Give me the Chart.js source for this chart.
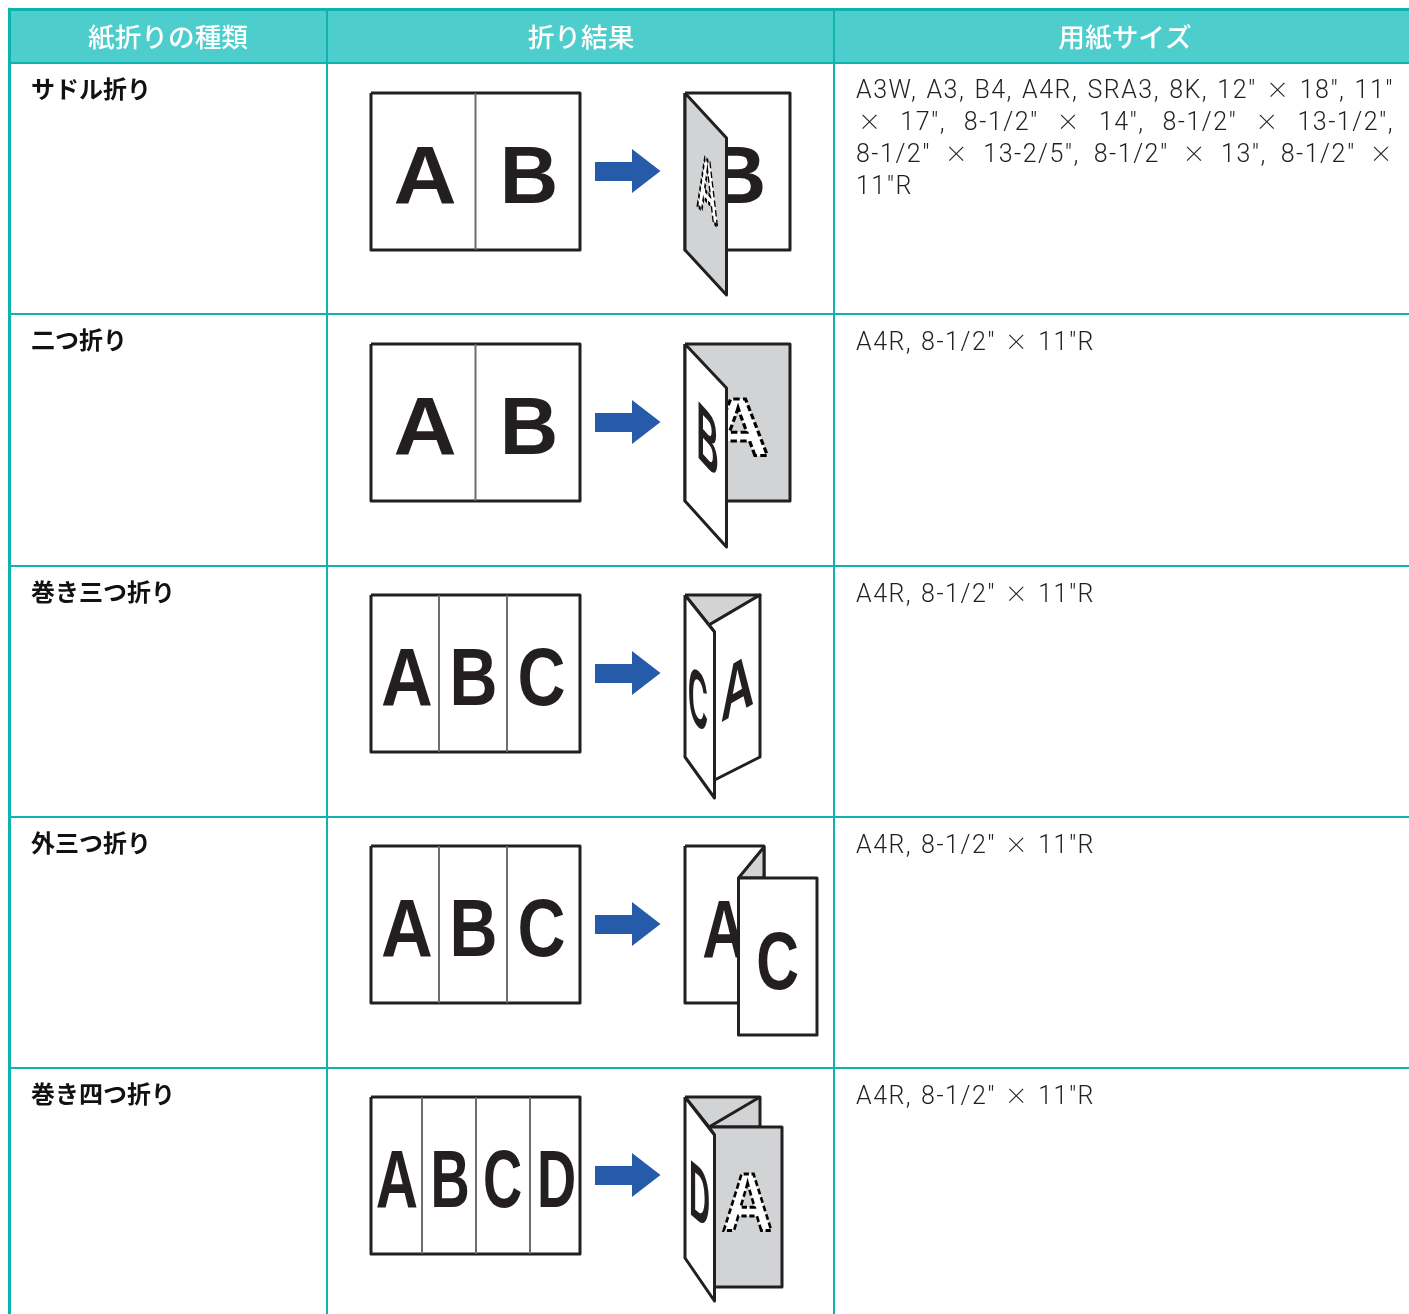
<!DOCTYPE html>
<html>
<head>
  <title>紙折りの種類</title>
  <script src="https://cdn.jsdelivr.net/npm/chart.js"></script>
  <style>
    html, body { margin: 0; background: #fff; }
    canvas { display: block; }
  </style>
</head>
<body>
  <canvas id="tabla" width="1409" height="1314"></canvas>

  <script>
    // text of the table
    var headers = ['紙折りの種類', '折り結果', '用紙サイズ'];
    var foldNames = ['サドル折り', '二つ折り', '巻き三つ折り', '外三つ折り', '巻き四つ折り'];
    var saddleSizes = [
      'A3W, A3, B4, A4R, SRA3, 8K, 12" × 18", 11"',
      '× 17", 8-1/2" × 14", 8-1/2" × 13-1/2",',
      '8-1/2" × 13-2/5", 8-1/2" × 13", 8-1/2" ×',
      '11"R'
    ];
    var otherSizes = 'A4R, 8-1/2" × 11"R';

    // table grid
    var columnRules = [9.5, 327, 834];
    var rowRules = [9.5, 63, 314, 566, 817, 1068];
    var headerCentres = [168, 581, 1125];
    var sheetTops = [93, 344, 595, 846, 1097];

    // flat sheet, left of each arrow
    var sheetFolds = [[475.5], [475.5], [439, 507], [439, 507], [422, 476, 530]];
    var sheetLetters = [
      [['A', 425], ['B', 529]],
      [['A', 425], ['B', 529]],
      [['A', 407], ['B', 473.5], ['C', 541.5]],
      [['A', 407], ['B', 473.5], ['C', 541.5]],
      [['A', 397], ['B', 450], ['C', 502.5], ['D', 556.5]]
    ];
    var letterWidths = [1, 1, 0.82, 0.82, 0.67];

    // folded sheets, right of each arrow
    var saddleBack = [[685, 93], [790, 93], [790, 250], [685, 250], [685, 93]];
    var saddlePanel = [[685, 93], [726.5, 138], [726.5, 295], [685, 250], [685, 93]];
    var halfBack = [[685, 344], [790, 344], [790, 501], [685, 501], [685, 344]];
    var halfPanel = [[685, 344], [726.5, 388], [726.5, 547], [685, 501], [685, 344]];
    var triGusset = [[685, 595], [760, 595], [709, 625], [685, 595]];
    var triRight = [[709, 625], [760, 595], [760, 757], [714.5, 780], [714.5, 632], [709, 625]];
    var triLeft = [[685, 595], [714.5, 632], [714.5, 798], [685, 757], [685, 595]];
    var outerBack = [[685, 846], [764, 846], [764, 1003], [685, 1003], [685, 846]];
    var outerCorner = [[764, 847], [764, 878], [738.5, 878], [764, 847]];
    var outerFront = [[738.5, 878], [817, 878], [817, 1035], [738.5, 1035], [738.5, 878]];
    var quadGusset = [[685, 1097], [760, 1097], [760, 1127], [709, 1127], [685, 1097]];
    var quadRight = [[709, 1127], [782, 1127], [782, 1287], [714.5, 1287], [714.5, 1135], [709, 1127]];
    var quadLeft = [[685, 1097], [714.5, 1135], [714.5, 1301], [685, 1258], [685, 1097]];
    var quadCrease = [[709, 1127], [760, 1097]];

    var INK = '#231f20', GREY = '#d1d3d4', RULE = '#0db4af', BAND = '#4dcdcb', BLUE = '#255ba8', FOLD = '#6d6e70';
    var SIZE_FONT = '300 25px Roboto';
    var TIMES_FONT = '300 23px "Noto Sans CJK JP"';
    var paint = [];

    function shape(points, fill, color, width) {
      paint.push({
        type: 'scatter',
        showLine: true,
        data: points.map(function(p) { return { x: p[0], y: p[1] }; }),
        borderColor: color,
        borderWidth: width,
        borderJoinStyle: 'round',
        backgroundColor: fill || 'transparent',
        fill: fill ? 'shape' : false,
        pointRadius: 0,
        tension: 0,
        clip: false
      });
    }

    // text is a single invisible point, the plugin below writes at its pixel
    function label(text, x, y, style) {
      paint.push({
        type: 'scatter',
        data: [{ x: x, y: y }],
        pointRadius: 0,
        clip: false,
        mark: Object.assign({ text: text }, style)
      });
    }

    function letter(text, x, y, m, dashed, lw) {
      // the A of the reference is a bit wider than the Liberation one
      var k = text == 'A' ? 1.08 : 1;
      label(text, x, y, {
        font: 'bold 81px "Liberation Sans"', align: 'center', color: INK,
        m: [m[0] * k, m[1] * k, m[2], m[3]], dashed: dashed, lw: lw
      });
    }

    // header band and rules
    shape([[8, 9.5], [1409, 9.5], [1409, 63], [8, 63], [8, 9.5]], BAND, BAND, 0);
    headers.forEach(function(h, i) {
      label(h, headerCentres[i], 47, { font: '500 26.7px "Noto Sans CJK JP"', align: 'center', color: '#ffffff' });
    });
    rowRules.forEach(function(y, i) {
      shape([[8, y], [1409, y]], null, RULE, i == 0 ? 3 : 2);
    });
    columnRules.forEach(function(x, i) {
      shape([[x, 9], [x, 1314]], null, RULE, i == 0 ? 3 : 2);
    });

    // first and third column
    foldNames.forEach(function(name, i) {
      var y = rowRules[i + 1];
      label(name, 31, y + 34.5, { font: '700 24px "Noto Sans CJK JP"', align: 'left', color: '#111111' });
      if (i > 0) {
        label(otherSizes, 856, y + 35.5, { size: true, color: INK, fit: 1095 });
      }
    });
    saddleSizes.forEach(function(line, i) {
      label(line, i == 1 ? 858 : 856, [98, 130, 162, 194][i], {
        size: true, color: INK, fit: i < 3 ? 1394 : 0
      });
    });

    // flat sheets and arrows
    sheetTops.forEach(function(top, i) {
      shape([[371, top], [580, top], [580, top + 157], [371, top + 157], [371, top]], '#ffffff', INK, 3);
      sheetFolds[i].forEach(function(x) {
        shape([[x, top + 1], [x, top + 156]], null, FOLD, 2);
      });
      sheetLetters[i].forEach(function(l) {
        letter(l[0], l[1], top + 110, [letterWidths[i], 0, 0, 1]);
      });
      shape([[595, top + 69], [632, top + 69], [632, top + 56], [660.5, top + 78], [632, top + 100], [632, top + 88], [595, top + 88], [595, top + 69]], BLUE, BLUE, 0);
    });

    // saddle fold
    shape(saddleBack, '#ffffff', INK, 3);
    letter('B', 737, 203, [1, 0, 0, 1]);
    shape(saddlePanel, GREY, INK, 3);
    letter('A', 707.5, 216, [0.34, 0.36, 0, 1], true, 4);

    // half fold
    shape(halfBack, GREY, INK, 3);
    letter('A', 738, 455, [1, 0, 0, 1], true, 3);
    shape(halfPanel, '#ffffff', INK, 3);
    letter('B', 707.5, 468, [0.38, 0.42, 0, 1.02]);

    // tri fold
    shape(triGusset, GREY, INK, 3);
    shape(triRight, '#ffffff', INK, 3);
    letter('A', 737.5, 713, [0.535, -0.31, 0, 0.93]);
    shape(triLeft, '#ffffff', INK, 3);
    letter('C', 698, 726, [0.34, 0.3, 0, 0.98]);

    // z fold
    shape(outerBack, '#ffffff', INK, 3);
    letter('A', 724, 957, [0.69, 0, 0, 1]);
    shape(outerCorner, GREY, INK, 3);
    shape(outerFront, '#ffffff', INK, 3);
    letter('C', 777.5, 989, [0.73, 0, 0, 1]);

    // accordion fold
    shape(quadGusset, GREY, INK, 3);
    shape(quadCrease, null, INK, 3);
    shape(quadRight, GREY, INK, 3);
    letter('A', 747.5, 1230, [0.81, 0, 0, 1], true, 3);
    shape(quadLeft, '#ffffff', INK, 3);
    letter('D', 699.5, 1222, [0.36, 0.3, 0, 0.98]);

    // Roboto has a tiny ×, and a font change loses wordSpacing, so the size lines go word by word
    function drawSizeLine(ctx, mark, p) {
      var words = mark.text.split(' ');
      var total = 0;
      ctx.letterSpacing = '1.5px';
      words.forEach(function(w) {
        ctx.font = w == '×' ? TIMES_FONT : SIZE_FONT;
        total += ctx.measureText(w).width;
      });
      var gap = words.length > 1 ? (mark.fit - p.x - total) / (words.length - 1) : 0;
      var x = p.x;
      words.forEach(function(w) {
        ctx.font = w == '×' ? TIMES_FONT : SIZE_FONT;
        ctx.fillText(w, x, p.y);
        x += ctx.measureText(w).width + gap;
      });
    }

    var marks = {
      id: 'marks',
      afterDatasetDraw: function(chart, args) {
        var mark = chart.data.datasets[args.index].mark;
        if (!mark) return;
        var p = args.meta.data[0];
        var ctx = chart.ctx;
        ctx.save();
        ctx.textBaseline = 'alphabetic';
        ctx.fillStyle = mark.color;
        if (mark.size) {
          ctx.textAlign = 'left';
          drawSizeLine(ctx, mark, p);
          ctx.restore();
          return;
        }
        ctx.font = mark.font;
        ctx.textAlign = mark.align;
        var m = mark.m;
        if (m) ctx.transform(m[0], m[1], m[2], m[3], p.x, p.y);
        var x = m ? 0 : p.x, y = m ? 0 : p.y;
        if (mark.dashed) {
          ctx.fillStyle = '#ffffff';
          ctx.fillText(mark.text, x, y);
          ctx.strokeStyle = '#000000';
          ctx.lineWidth = mark.lw;
          ctx.setLineDash([6, 3]);
          ctx.strokeText(mark.text, x, y);
        } else {
          ctx.fillText(mark.text, x, y);
        }
        ctx.restore();
      }
    };

    // first dataset is drawn last, so flip the paint order
    new Chart(document.getElementById('tabla').getContext('2d'), {
      type: 'scatter',
      data: { datasets: paint.slice().reverse() },
      plugins: [marks],
      options: {
        responsive: false,
        animation: false,
        events: [],
        layout: { padding: 0 },
        plugins: { legend: { display: false }, tooltip: { enabled: false } },
        scales: {
          x: { type: 'linear', min: 0, max: 1409, display: false },
          y: { type: 'linear', min: 0, max: 1314, reverse: true, display: false }
        }
      }
    });
  </script>
</body>
</html>
